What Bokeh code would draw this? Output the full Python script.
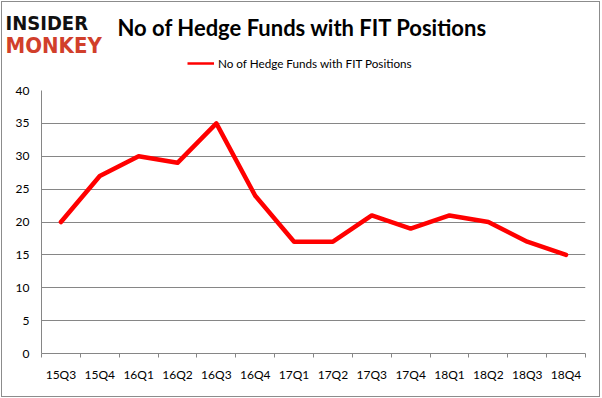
from bokeh.plotting import figure
from bokeh.layouts import column
from bokeh.models import FixedTicker, Label, Legend, LegendItem, ColumnDataSource
from bokeh.embed import file_html
from bokeh.resources import INLINE

# ---- data ----
quarters = ["15Q3", "15Q4", "16Q1", "16Q2", "16Q3", "16Q4", "17Q1",
            "17Q2", "17Q3", "17Q4", "18Q1", "18Q2", "18Q3", "18Q4"]
funds = [20, 27, 30, 29, 35, 24, 17, 17, 21, 19, 21, 20, 17, 15]
y_ticks = [0, 5, 10, 15, 20, 25, 30, 35, 40]
series_name = "No of Hedge Funds with FIT Positions"
chart_title = "No of Hedge Funds with FIT Positions"

idx = list(range(len(quarters)))
boundaries = [i - 0.5 for i in range(len(quarters) + 1)]

GRID = "#868686"
FONT = "Lato"
RED = "#ff0000"
W = 597
HEAD_H = 80
MAIN_H = 314

# ---------------- header (logo, title, legend) ----------------
head = figure(width=W, height=HEAD_H, output_backend="svg", toolbar_location=None,
              x_range=(0, W), y_range=(HEAD_H, 0),
              x_axis_location=None, y_axis_location=None,
              min_border=0, title=None)
head.frame_align = False
head.outline_line_color = None
head.xgrid.visible = False
head.ygrid.visible = False
head.background_fill_color = "white"
head.border_fill_color = "white"

proxy_src = ColumnDataSource(dict(x=[float("nan")], y=[float("nan")]))
proxy = head.line("x", "y", source=proxy_src, line_color=RED, line_width=2.5)
legend = Legend(items=[LegendItem(label=series_name, renderers=[proxy])],
                location=(185, 11), orientation="horizontal",
                padding=0, margin=0, spacing=0, label_standoff=4,
                glyph_width=27, glyph_height=16, label_height=16,
                border_line_color=None, background_fill_alpha=0,
                label_text_font=FONT, label_text_font_size="11.7px",
                label_text_color="#000000")
head.add_layout(legend, "center")

head.add_layout(Label(x=115, y=25, text=chart_title, text_font=FONT,
                      text_font_style="bold", text_font_size="22px",
                      text_color="#000000", text_baseline="alphabetic"))

LOGO_FONT = "'Liberation Sans Narrow', 'DejaVu Sans Condensed', 'DejaVu Sans'"
head.add_layout(Label(x=3, y=20, text="INSIDER", text_font=LOGO_FONT,
                      text_font_style="bold", text_font_size="20px",
                      text_color="#111111", text_baseline="alphabetic"))
head.add_layout(Label(x=3, y=43, text="MONKEY", text_font=LOGO_FONT,
                      text_font_style="bold", text_font_size="22px",
                      text_color="#d13f2b", text_baseline="alphabetic"))

# ---------------- main chart ----------------
p = figure(width=W, height=MAIN_H, output_backend="svg", toolbar_location=None,
           x_range=(-0.5, len(quarters) - 0.5), y_range=(0, 40),
           min_border_left=39, min_border_right=14, min_border_top=8,
           min_border_bottom=43, title=None)
p.frame_align = False
p.outline_line_color = None
p.background_fill_color = "white"
p.border_fill_color = "white"

src = ColumnDataSource(dict(x=idx, y=funds))
p.line("x", "y", source=src, line_color=RED, line_width=4.5,
       line_join="round", line_cap="round")

xa = p.xaxis[0]
xa.ticker = FixedTicker(ticks=idx, minor_ticks=boundaries)
xa.major_label_overrides = {i: q for i, q in zip(idx, quarters)}
xa.major_tick_line_color = None
xa.major_tick_out = 0
xa.major_tick_in = 0
xa.minor_tick_line_color = GRID
xa.minor_tick_out = 4
xa.minor_tick_in = 0
xa.axis_line_color = GRID
xa.major_label_standoff = 9
xa.major_label_text_font = FONT
xa.major_label_text_font_size = "12px"
xa.major_label_text_color = "#000000"

ya = p.yaxis[0]
ya.ticker = FixedTicker(ticks=y_ticks)
ya.major_tick_line_color = None
ya.minor_tick_line_color = None
ya.major_tick_out = 0
ya.major_tick_in = 0
ya.axis_line_color = GRID
ya.major_label_standoff = 12
ya.major_label_text_font = FONT
ya.major_label_text_font_size = "12px"
ya.major_label_text_color = "#000000"

p.xgrid.grid_line_color = None
p.ygrid.grid_line_color = GRID
p.ygrid.grid_line_width = 1

layout = column(head, p, spacing=0,
                styles={"border": "1px solid #8c8c8c", "margin": "1px 0 0 1px"})

open("out.html", "w").write(file_html(layout, INLINE))
